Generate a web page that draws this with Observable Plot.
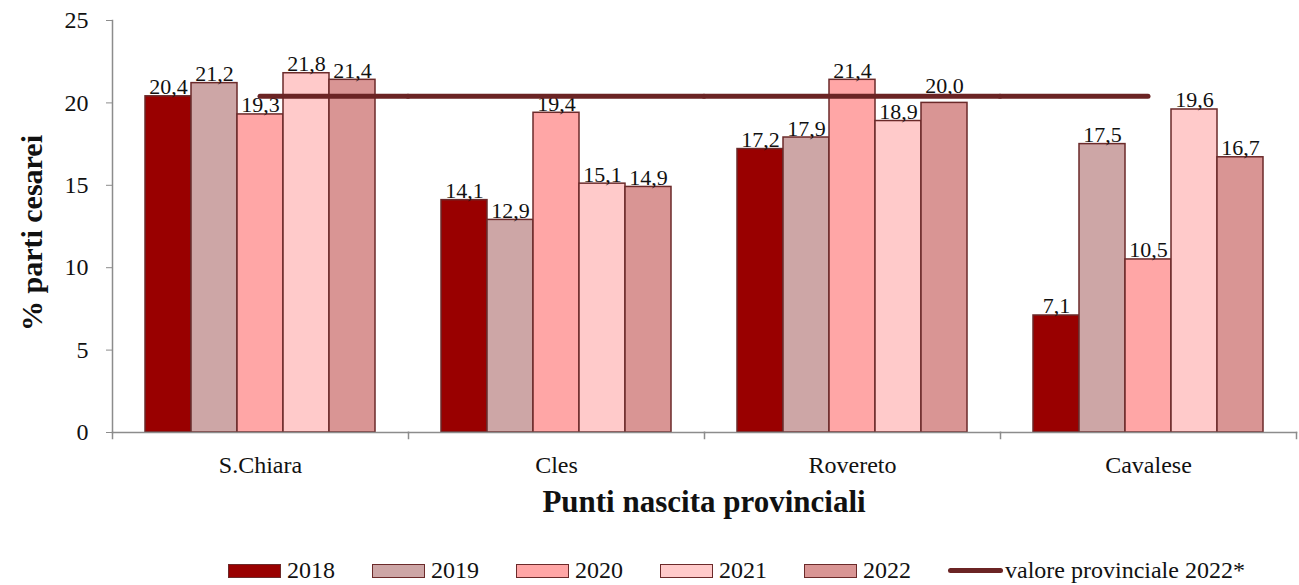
<!DOCTYPE html>
<html>
<head>
<meta charset="utf-8">
<script src="https://cdn.jsdelivr.net/npm/d3@7"></script>
<script src="https://cdn.jsdelivr.net/npm/@observablehq/plot@0.6"></script>
<style>
  body { margin: 0; background: #fff; font-family: "Liberation Serif", "DejaVu Serif", serif; }
  #wrap { position: relative; width: 1299px; height: 585px; overflow: hidden; }
  #chart svg, #chart svg text { font-family: "Liberation Serif", "DejaVu Serif", serif !important; }
  #legend { position: absolute; left: 228px; top: 557px; display: flex; align-items: center; font-size: 24px; color: #111; line-height: 27px; }
  .item { display: flex; align-items: center; width: 144px; }
  .sw { width: 51px; height: 12px; border: 1.5px solid #6b2a2a; margin-right: 6px; flex: none; }
  .ln { width: 55px; height: 5px; border-radius: 3px; background: #6b2424; margin-right: 2px; flex: none; }
</style>
</head>
<body>
<div id="wrap">
  <div id="chart"></div>
  <div id="legend"></div>
</div>
<script>
// ---- data ----
const categories = ["S.Chiara", "Cles", "Rovereto", "Cavalese"];
const years = ["2018", "2019", "2020", "2021", "2022"];
const v2018 = [20.4, 14.1, 17.2, 7.1];
const v2019 = [21.2, 12.9, 17.9, 17.5];
const v2020 = [19.3, 19.4, 21.4, 10.5];
const v2021 = [21.8, 15.1, 18.9, 19.6];
const v2022 = [21.4, 14.9, 20.0, 16.7];
const provincial2022 = 20.4;
const provincialLabel = "valore provinciale 2022*";
const yTicks = [0, 5, 10, 15, 20, 25];
const yearColors = ["#990000", "#cda6a6", "#ffa6a6", "#ffcaca", "#d99594"];
const xTitle = "Punti nascita provinciali";
const yTitle = "% parti cesarei";

const series = [v2018, v2019, v2020, v2021, v2022];
const rows = [];
categories.forEach((c, i) => years.forEach((y, j) => rows.push({cat: c, year: y, value: series[j][i]})));

// ---- layout ----
const W = 1299, H = 540;
const mL = 112, mR = 3, mT = 20, mB = 108;
const innerH = H - mT - mB;
const padOuter = 0.717;
const facetW = (W - mL - mR) / categories.length;
const axisGray = "#8c8c8c";
const barStroke = "#6b2a2a";
const lineColor = "#6b2424";
const serif = "'Liberation Serif', 'DejaVu Serif', serif";
const fmt = v => v.toFixed(1).replace(".", ",");

// labels just under the provincial line are lifted above it (as in the original)
const lifted = d => d.value < provincial2022 && d.value >= provincial2022 - 0.5;

const lineFirst = [{cat: categories[0], v: provincial2022}];
const lineMiddle = categories.slice(1, -1).map(c => ({cat: c, v: provincial2022}));
const lineLast = [{cat: categories[categories.length - 1], v: provincial2022}];
const lineStyle = {stroke: lineColor, strokeWidth: 5, strokeLinecap: "round"};

const plot = Plot.plot({
  width: W, height: H,
  marginLeft: mL, marginRight: mR, marginTop: mT, marginBottom: mB,
  style: {fontFamily: serif, background: "#fff", color: "#111"},
  fx: {domain: categories, padding: 0, label: null},
  x: {domain: years, paddingInner: 0, paddingOuter: padOuter, axis: null},
  y: {domain: [0, 25], label: null},
  color: {domain: years, range: yearColors},
  marks: [
    Plot.barY(rows, {fx: "cat", x: "year", y: "value", fill: "year", stroke: barStroke, strokeWidth: 1.5}),
    Plot.frame({anchor: "bottom", stroke: axisGray, strokeWidth: 1.5}),
    Plot.frame({anchor: "left", facetAnchor: "left", stroke: axisGray, strokeWidth: 1.5}),
    Plot.frame({anchor: "left", insetTop: innerH, insetBottom: -6, stroke: axisGray, strokeWidth: 1.5}),
    Plot.frame({anchor: "right", facetAnchor: "right", insetTop: innerH, insetBottom: -6, stroke: axisGray, strokeWidth: 1.5}),
    Plot.text(rows.filter(d => !lifted(d)), {fx: "cat", x: "year", y: "value", text: d => fmt(d.value), lineAnchor: "bottom", dy: -2, fontSize: 22, fontFamily: serif, fill: "#111"}),
    Plot.text(rows.filter(lifted), {fx: "cat", x: "year", y: "value", text: d => fmt(d.value), lineAnchor: "bottom", dy: -10, fontSize: 22, fontFamily: serif, fill: "#111"}),
    Plot.ruleY(lineFirst, {fx: "cat", y: "v", insetLeft: facetW / 2, ...lineStyle}),
    Plot.ruleY(lineMiddle, {fx: "cat", y: "v", ...lineStyle}),
    Plot.ruleY(lineLast, {fx: "cat", y: "v", insetRight: facetW / 2, ...lineStyle}),
    Plot.axisY({ticks: yTicks, tickSize: 6, tickPadding: 18, fontSize: 24, fontFamily: serif, label: null, stroke: axisGray, fill: "#111"}),
    Plot.axisFx({anchor: "bottom", tickSize: 0, tickPadding: 23, fontSize: 24, fontFamily: serif, label: null, fill: "#111"})
  ]
});
document.getElementById("chart").appendChild(plot);

// axis titles
const svg = d3.select(plot);
svg.append("text")
  .attr("x", (mL + W - mR) / 2).attr("y", 512)
  .attr("text-anchor", "middle")
  .attr("font-size", 31).attr("font-weight", "bold").attr("fill", "#111")
  .text(xTitle);
svg.append("text")
  .attr("transform", `translate(42,233) rotate(-90)`)
  .attr("text-anchor", "middle")
  .attr("font-size", 30).attr("font-weight", "bold").attr("fill", "#111")
  .text(yTitle);

// legend
const legend = d3.select("#legend");
years.forEach((y, i) => {
  const it = legend.append("div").attr("class", "item");
  it.append("div").attr("class", "sw").style("background", yearColors[i]);
  it.append("span").text(y);
});
const li = legend.append("div").attr("class", "item").style("width", "auto");
li.append("div").attr("class", "ln");
li.append("span").text(provincialLabel);
</script>
</body>
</html>
